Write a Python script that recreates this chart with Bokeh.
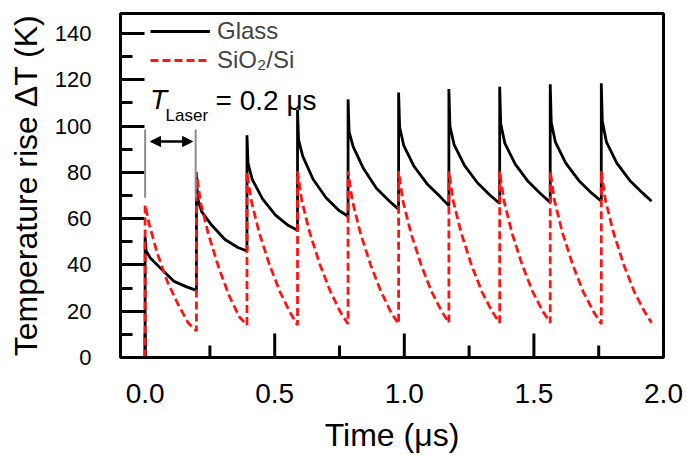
from bokeh.plotting import figure
from bokeh.models import (Range1d, SingleIntervalTicker, PrintfTickFormatter, Legend,
                          LegendItem, Label, Arrow, NormalHead, Grid)
from bokeh.embed import file_html
from bokeh.resources import INLINE
import math

# ---- data ----
glass_t = [
    0.000, 0.000, 0.004, 0.020, 0.060, 0.110, 0.160,
    0.198, 0.198, 0.202, 0.218, 0.258, 0.308, 0.358,
    0.393, 0.393, 0.397, 0.413, 0.453, 0.503, 0.553,
    0.588, 0.588, 0.592, 0.608, 0.648, 0.698, 0.748,
    0.783, 0.783, 0.787, 0.803, 0.843, 0.893, 0.943,
    0.978, 0.978, 0.982, 0.998, 1.038, 1.088, 1.138,
    1.172, 1.172, 1.176, 1.192, 1.232, 1.282, 1.332,
    1.368, 1.368, 1.372, 1.388, 1.428, 1.478, 1.528,
    1.563, 1.563, 1.567, 1.583, 1.623, 1.673, 1.723,
    1.760, 1.760, 1.764, 1.780, 1.820, 1.870, 1.920,
    1.954]
glass_v = [
    0, 52, 46, 43, 38.5, 33, 30.5,
    29, 80, 69, 63, 57, 51, 47.5,
    46, 96, 84, 77, 68.5, 61.5, 57,
    55, 107, 94, 87, 77, 69, 63.5,
    61, 111.5, 97.5, 91, 81.5, 73, 67.5,
    64, 114.5, 99.5, 91.5, 82.5, 75, 69.5,
    65.5, 116, 100, 92, 83, 75.5, 70,
    66.5, 117, 101, 92.5, 83.5, 76, 70.5,
    67, 118, 101.5, 93, 84, 76.5, 71,
    67.5, 118.5, 102, 93, 84, 76.5, 71,
    67.5]

sio2_t = [
    0.000, 0.000, 0.016, 0.047, 0.087, 0.127, 0.166,
    0.198, 0.198, 0.214, 0.245, 0.285, 0.325, 0.364,
    0.393, 0.393, 0.409, 0.440, 0.480, 0.520, 0.559,
    0.588, 0.588, 0.604, 0.635, 0.675, 0.715, 0.754,
    0.783, 0.783, 0.799, 0.830, 0.870, 0.910, 0.949,
    0.978, 0.978, 0.994, 1.025, 1.065, 1.105, 1.144,
    1.172, 1.172, 1.188, 1.219, 1.259, 1.299, 1.338,
    1.368, 1.368, 1.384, 1.415, 1.455, 1.495, 1.534,
    1.563, 1.563, 1.579, 1.610, 1.650, 1.690, 1.729,
    1.760, 1.760, 1.776, 1.807, 1.847, 1.887, 1.926,
    1.954]
sio2_v = [
    0, 66, 57.5, 45, 32.5, 23, 15,
    11.5, 80, 67, 53, 38.5, 26.5, 17.5,
    14, 80, 68, 54, 40, 28.5, 19.5,
    14, 80.5, 68, 54, 40, 28.5, 19.5,
    14.5, 80.5, 68, 54, 40, 28.5, 19.5,
    14.5, 80.5, 68, 54, 40, 28.5, 20,
    15, 80.5, 68, 54, 40, 28.5, 20,
    15, 80.5, 68, 54, 40, 28.5, 20,
    15, 80.5, 68, 54, 40, 28.5, 20,
    14.5, 80.5, 68, 54, 40, 28.5, 20,
    15]

series_labels = ["Glass", "SiO\u2082/Si"]
x_major_ticks = [0.0, 0.5, 1.0, 1.5]
x_minor_ticks = [0.25, 0.75, 1.25, 1.75]
laser_marks = [0.0, 0.195]       # T_Laser bracket
laser_mark_span = [69, 98.5]
laser_arrow = [0.021, 0.183, 93.3]

FONT = "Liberation Sans"
X0, X1, Y0, Y1 = -0.095, 2.0, 0.0, 148.6
W, H = 687, 455
BL, BR, BT, BB = 120, 24, 13, 95
px_x = (W - BL - BR) / (X1 - X0)       # pixels per x unit
px_y = (H - BT - BB) / (Y1 - Y0)       # pixels per y unit

p = figure(width=W, height=H, output_backend="svg", toolbar_location=None,
           x_range=Range1d(X0, X1), y_range=Range1d(Y0, Y1),
           min_border_left=BL, min_border_right=BR, min_border_top=BT,
           min_border_bottom=BB)
p.xgrid.visible = False
p.ygrid.visible = False
p.outline_line_color = "black"
p.outline_line_width = 3
p.outline_line_alpha = 1.0
p.background_fill_color = "white"
p.border_fill_color = "white"

for ax in (p.xaxis[0], p.yaxis[0]):
    ax.axis_line_width = 3
    ax.axis_line_color = "black"
    ax.major_tick_in = 0
    ax.major_tick_out = 0
    ax.minor_tick_in = 0
    ax.minor_tick_out = 0
    ax.major_label_text_font = FONT
    ax.major_label_text_color = "black"
    ax.axis_label_text_font = FONT
    ax.axis_label_text_font_style = "normal"
    ax.axis_label_text_font_size = "32px"
    ax.axis_label_text_color = "black"

p.xaxis.ticker = SingleIntervalTicker(interval=0.5)
p.xaxis.formatter = PrintfTickFormatter(format="%.1f")
p.xaxis.major_label_text_font_size = "28px"
p.xaxis.major_label_standoff = 26
p.xaxis.axis_label = "Time (\u03bcs)"
p.xaxis.axis_label_standoff = 11

p.yaxis.ticker = SingleIntervalTicker(interval=20)
p.yaxis.major_label_text_font_size = "22px"
p.yaxis.major_label_standoff = 29
p.yaxis.axis_label = "Temperature rise \u0394T (K)"
p.yaxis.axis_label_standoff = 8

# inward tick marks
MAJ, MIN = 24, 12
for iv, ln in ((10, MIN), (20, MAJ)):
    g = Grid(dimension=1, ticker=SingleIntervalTicker(interval=iv),
             cross_bounds=(X0, X0 + ln / px_x))
    g.grid_line_color = "black"
    g.grid_line_width = 3
    g.grid_line_alpha = 1.0
    p.add_layout(g)
# x ticks as vertical dash markers (size in screen pixels)
p.scatter(x=x_major_ticks, y=[Y0 + MAJ / 2 / px_y] * len(x_major_ticks), marker="dash",
          size=MAJ, angle=math.pi / 2, line_color="black", line_width=3)
p.scatter(x=x_minor_ticks, y=[Y0 + MIN / 2 / px_y] * len(x_minor_ticks), marker="dash",
          size=MIN, angle=math.pi / 2, line_color="black", line_width=3)

r_glass = p.line(glass_t, glass_v, line_color="black", line_width=2.8)
r_sio2 = p.line(sio2_t, sio2_v, line_color="#ff1414", line_width=2.8, line_dash="8 4")

legend = Legend(items=[LegendItem(label=series_labels[0], renderers=[r_glass]),
                       LegendItem(label=series_labels[1], renderers=[r_sio2])],
                location=(30, 283), padding=0, margin=0, spacing=1,
                glyph_width=60, glyph_height=28, label_height=28, label_standoff=7,
                label_text_font=FONT, label_text_font_size="24px",
                background_fill_alpha=0, border_line_alpha=0)
p.add_layout(legend)

# T_Laser bracket
p.segment(x0=laser_marks, y0=[laser_mark_span[0]] * 2, x1=laser_marks,
          y1=[laser_mark_span[1]] * 2, line_color="#8c8c8c", line_width=2)
p.add_layout(Arrow(start=NormalHead(size=10, fill_color="black", line_color="black"),
                   end=NormalHead(size=10, fill_color="black", line_color="black"),
                   x_start=laser_arrow[0], x_end=laser_arrow[1],
                   y_start=laser_arrow[2], y_end=laser_arrow[2],
                   line_color="black", line_width=2.5))
p.add_layout(Label(x=0.019, y=111.3, text="T", text_font=FONT, text_font_style="italic",
                   text_font_size="28px", text_baseline="middle", text_color="black"))
p.add_layout(Label(x=0.079, y=104.5, text="Laser", text_font=FONT,
                   text_font_size="17px", text_baseline="middle", text_color="black"))
p.add_layout(Label(x=0.272, y=110.9, text="= 0.2 \u03bcs", text_font=FONT,
                   text_font_size="28px", text_baseline="middle", text_color="black"))

open("out.html", "w").write(file_html(p, INLINE))
